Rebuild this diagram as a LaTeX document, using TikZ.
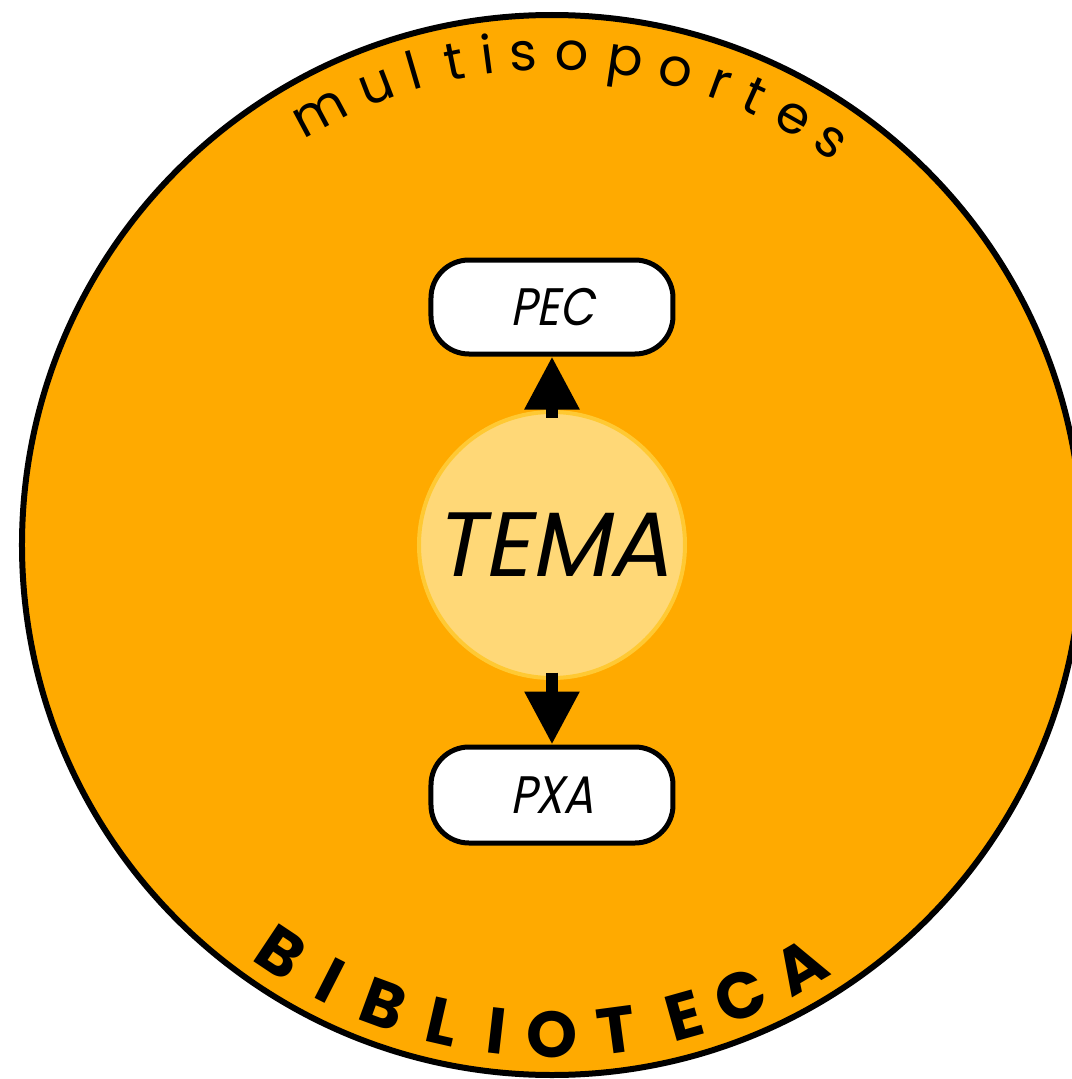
\documentclass[tikz,border=0pt]{standalone}
\usepackage{fontspec}
\setmainfont{Poppins}
\newfontfamily\slfont[FakeSlant=0.2,FakeStretch=0.85]{Poppins}
\newfontfamily\temafont[FakeSlant=0.2]{Poppins}
\usetikzlibrary{arrows.meta,positioning}
\definecolor{naranxa}{HTML}{FFAA00}
\definecolor{tematint}{HTML}{FFD877}
\definecolor{temaborde}{HTML}{FFC933}

\begin{document}
\begin{tikzpicture}[>={Triangle[width=1.04cm,length=1.06cm]}, line join=round,
	caixa/.style={draw, line width=0.1cm, fill=white, rounded corners=0.76cm, minimum width=4.84cm, inner sep=0pt, font=\slfont\fontsize{30}{32}\selectfont},
	frecha/.style={->, line width=0.24cm},
	letra/.style={anchor=base, inner sep=0pt}]
	\clip (-11.04, 10.9) rectangle (10.4, -10.68);
	\draw[line width=0.12cm, fill=naranxa] (0, 0) circle (10.6);
	\node[circle, fill=tematint, draw=temaborde, line width=0.08cm, minimum size=5.32cm, font=\temafont\fontsize{52}{56}\selectfont] (tema) at (0, 0) {TEMA};
	\node[caixa, minimum height=1.88cm] (pec) at (0, 4.76) {PEC};
	\node[caixa, minimum height=1.92cm] (pxa) at (0, -5) {PXA};
	\draw[frecha, shorten <=-0.15cm] (tema) -- (pec);
	\draw[frecha, shorten <=-0.15cm] (tema) -- (pxa);
	\foreach \a/\ch in {118.2/m, 111/u, 106.3/l, 101.4/t, 97.5/i, 93.4/s, 87.7/o, 81.4/p, 75.4/o, 70/r, 65.7/t, 60.5/e, 55.4/s}
		\node[letra, rotate=\a-90, font=\fontsize{30}{33}\selectfont] at (\a:9.5) {\ch};
	\foreach \a/\ch in {236.3/B, 243/I, 249.8/B, 257.1/L, 263.5/I, 270/O, 277.6/T, 285.7/E, 292.7/C, 300.5/A}
		\node[letra, rotate=\a+90, font=\bfseries\fontsize{37}{40}\selectfont] at (\a:10.24) {\ch};
\end{tikzpicture}
\end{document}
